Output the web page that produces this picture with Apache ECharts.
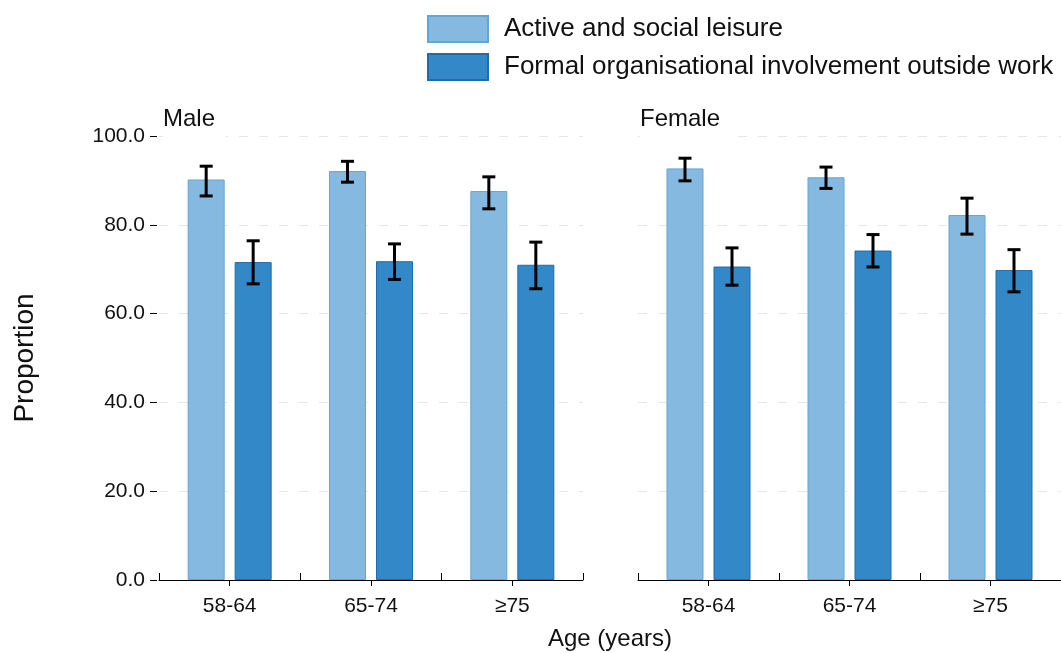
<!DOCTYPE html>
<html>
<head>
<meta charset="utf-8">
<script src="https://cdn.jsdelivr.net/npm/echarts@6/dist/echarts.min.js"></script>
<style>
html,body{margin:0;padding:0;background:#fff;}
#chart{width:1061px;height:653px;}
</style>
</head>
<body>
<div id="chart"></div>
<script>
const categories = ['58-64', '65-74', '≥75'];
const yTicks = [0, 20, 40, 60, 80, 100];
const seriesNames = ['Active and social leisure', 'Formal organisational involvement outside work'];
const panelNames = ['Male', 'Female'];

const maleLeisure = [90.2, 92.1, 87.6];
const maleLeisureLo = [86.5, 89.6, 83.6];
const maleLeisureHi = [93.2, 94.3, 90.8];
const maleFormal = [71.6, 71.8, 71.0];
const maleFormalLo = [66.7, 67.7, 65.6];
const maleFormalHi = [76.4, 75.7, 76.1];

const femaleLeisure = [92.7, 90.7, 82.2];
const femaleLeisureLo = [89.9, 88.2, 77.9];
const femaleLeisureHi = [95.0, 93.0, 86.0];
const femaleFormal = [70.6, 74.2, 69.8];
const femaleFormalLo = [66.4, 70.5, 64.9];
const femaleFormalHi = [74.8, 77.8, 74.4];

const FONT = 'Liberation Sans, Arial, sans-serif';
const TXT = '#111';
const lightStyle = {color: '#86b9df', borderColor: '#64a5d8', borderWidth: 1};
const darkStyle = {color: '#3389c8', borderColor: '#1d6cab', borderWidth: 1};
const BAR_W = 37, BAR_GAP = 10;
const OFF = (BAR_W + BAR_GAP) / 2;

function errSeries(lo, hi, offset, xi, yi) {
  return {
    type: 'custom',
    xAxisIndex: xi, yAxisIndex: yi,
    z: 10,
    silent: true,
    encode: {x: 0, y: [1, 2]},
    data: categories.map((c, i) => [i, lo[i], hi[i]]),
    renderItem: function (params, api) {
      const pLo = api.coord([api.value(0), api.value(1)]);
      const pHi = api.coord([api.value(0), api.value(2)]);
      const x = pLo[0] + offset;
      const cap = 6.5;
      const st = {stroke: '#000', lineWidth: 3};
      return {
        type: 'group',
        children: [
          {type: 'line', shape: {x1: x, y1: pLo[1], x2: x, y2: pHi[1]}, style: st},
          {type: 'line', shape: {x1: x - cap, y1: pLo[1], x2: x + cap, y2: pLo[1]}, style: st},
          {type: 'line', shape: {x1: x - cap, y1: pHi[1], x2: x + cap, y2: pHi[1]}, style: st}
        ]
      };
    }
  };
}

const grids = [
  {left: 159, top: 136, width: 424, height: 444},
  {left: 638, top: 136, width: 423, height: 444}
];

function mainX(gi) {
  return {
    type: 'category', gridIndex: gi, data: categories,
    axisLine: {show: true, lineStyle: {color: '#000', width: 1}},
    axisTick: {show: true, alignWithLabel: true, length: 6, lineStyle: {color: '#000'}},
    axisLabel: {fontSize: 21, color: TXT, fontFamily: FONT, margin: 16},
    splitLine: {show: false}
  };
}
function boundaryX(gi) {
  return {
    type: 'category', gridIndex: gi, data: categories, position: 'bottom',
    axisLine: {show: false},
    axisTick: {show: true, inside: true, length: 7, lineStyle: {color: '#000'}},
    axisLabel: {show: false},
    splitLine: {show: false}
  };
}

const chart = echarts.init(document.getElementById('chart'), null, {renderer: 'canvas'});
chart.setOption({
  backgroundColor: '#fff',
  animation: false,
  textStyle: {fontFamily: FONT},
  title: [
    {text: panelNames[0], left: 163, top: 107, padding: [0, 11, 8, 0], backgroundColor: '#fff',
     textStyle: {fontSize: 24, fontWeight: 'normal', color: TXT, fontFamily: FONT}},
    {text: panelNames[1], left: 640, top: 107, padding: [0, 9, 8, 0], backgroundColor: '#fff',
     textStyle: {fontSize: 24, fontWeight: 'normal', color: TXT, fontFamily: FONT}},
    {text: 'Age (years)', left: 610, top: 627, textAlign: 'center', padding: 0,
     textStyle: {fontSize: 24, fontWeight: 'normal', color: TXT, fontFamily: FONT}}
  ],
  legend: {
    orient: 'vertical', left: 427, top: 15, padding: 0,
    icon: 'rect',
    itemWidth: 60, itemHeight: 26, itemGap: 10,
    data: seriesNames,
    textStyle: {fontSize: 26, color: TXT, fontFamily: FONT, padding: [0, 0, 0, 11]}
  },
  grid: grids,
  xAxis: [mainX(0), mainX(1), boundaryX(0), boundaryX(1)],
  yAxis: [
    {
      type: 'value', gridIndex: 0, min: 0, max: 100, interval: 20, offset: 2,
      name: 'Proportion', nameLocation: 'middle', nameGap: 118, nameRotate: 90,
      nameTextStyle: {fontSize: 28, color: TXT, fontFamily: FONT},
      axisLine: {show: false},
      axisTick: {show: true, length: 7, lineStyle: {color: '#000'}},
      axisLabel: {fontSize: 21, color: TXT, fontFamily: FONT, margin: 12,
                  formatter: v => v.toFixed(1)},
      splitLine: {show: true, lineStyle: {color: '#e6e6e6', type: [9, 11], width: 1}}
    },
    {
      type: 'value', gridIndex: 1, min: 0, max: 100, interval: 20,
      axisLine: {show: false}, axisTick: {show: false}, axisLabel: {show: false},
      splitLine: {show: true, lineStyle: {color: '#e6e6e6', type: [9, 11], width: 1}}
    }
  ],
  series: [
    {name: seriesNames[0], type: 'bar', xAxisIndex: 0, yAxisIndex: 0, data: maleLeisure,
     barWidth: BAR_W, barGap: (BAR_GAP / BAR_W * 100) + '%', itemStyle: lightStyle},
    {name: seriesNames[1], type: 'bar', xAxisIndex: 0, yAxisIndex: 0, data: maleFormal,
     barWidth: BAR_W, itemStyle: darkStyle},
    {name: seriesNames[0], type: 'bar', xAxisIndex: 1, yAxisIndex: 1, data: femaleLeisure,
     barWidth: BAR_W, barGap: (BAR_GAP / BAR_W * 100) + '%', itemStyle: lightStyle},
    {name: seriesNames[1], type: 'bar', xAxisIndex: 1, yAxisIndex: 1, data: femaleFormal,
     barWidth: BAR_W, itemStyle: darkStyle},
    errSeries(maleLeisureLo, maleLeisureHi, -OFF, 0, 0),
    errSeries(maleFormalLo, maleFormalHi, OFF, 0, 0),
    errSeries(femaleLeisureLo, femaleLeisureHi, -OFF, 1, 1),
    errSeries(femaleFormalLo, femaleFormalHi, OFF, 1, 1)
  ]
});
</script>
</body>
</html>
